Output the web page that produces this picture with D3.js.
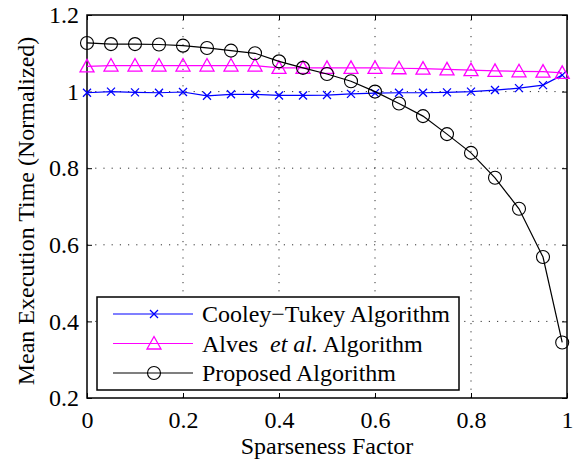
<!DOCTYPE html>
<html>
<head>
<meta charset="utf-8">
<script src="https://cdn.jsdelivr.net/npm/d3@7"></script>
<style>
  html, body { margin: 0; padding: 0; background: #fff; }
  svg { display: block; }
</style>
</head>
<body>
<svg id="chart" width="577" height="462" font-family="'Liberation Serif', 'Times New Roman', serif"></svg>
<script>
// ── Data ─────────────────────────────────────────────
const sparseness = [0, 0.05, 0.1, 0.15, 0.2, 0.25, 0.3, 0.35, 0.4, 0.45, 0.5,
                    0.55, 0.6, 0.65, 0.7, 0.75, 0.8, 0.85, 0.9, 0.95, 0.99];
const cooleyTukey = [0.997, 1.0, 0.998, 0.997, 0.999, 0.989, 0.993, 0.993, 0.99, 0.99, 0.991,
                     0.994, 0.996, 0.997, 0.997, 0.998, 1.0, 1.004, 1.009, 1.017, 1.043];
const alves = [1.066, 1.068, 1.068, 1.068, 1.068, 1.068, 1.068, 1.068, 1.062, 1.062, 1.062,
               1.062, 1.062, 1.061, 1.06, 1.058, 1.056, 1.054, 1.053, 1.052, 1.049];
const proposed = [1.127, 1.124, 1.124, 1.123, 1.12, 1.114, 1.107, 1.1, 1.079, 1.062, 1.046,
                  1.027, 1.0, 0.969, 0.936, 0.889, 0.84, 0.775, 0.694, 0.568, 0.345];
const xTicks = [0, 0.2, 0.4, 0.6, 0.8, 1];
const yTicks = [0.2, 0.4, 0.6, 0.8, 1, 1.2];

const series = [
  { name: 'Cooley\u2212Tukey Algorithm', values: cooleyTukey, color: '#0000ff', marker: 'cross' },
  { name: 'Alves et al. Algorithm',      values: alves,       color: '#ff00ff', marker: 'triangle' },
  { name: 'Proposed Algorithm',          values: proposed,    color: '#000000', marker: 'circle' },
];

// ── Layout ───────────────────────────────────────────
const m = { left: 87, right: 10, top: 15, bottom: 64 };
const W = 577, H = 462;
const FS = 24;
const svg = d3.select('#chart');

const x = d3.scaleLinear().domain([0, 1]).range([m.left, W - m.right]);
const y = d3.scaleLinear().domain([0.2, 1.2]).range([H - m.bottom, m.top]);

// Grid (dotted)
const grid = svg.append('g').attr('class', 'grid')
  .attr('stroke', '#333').attr('stroke-width', 1).attr('stroke-dasharray', '1.2,7');
grid.selectAll('line.gx').data(xTicks.slice(1, -1)).join('line')
  .attr('x1', d => x(d)).attr('x2', d => x(d))
  .attr('y1', y.range()[0]).attr('y2', y.range()[1]);
grid.selectAll('line.gy').data(yTicks.slice(1, -1)).join('line')
  .attr('y1', d => y(d)).attr('y2', d => y(d))
  .attr('x1', x.range()[0]).attr('x2', x.range()[1]);

// Axes (ticks pointing inward, on all four sides)
const fmt = d => d3.format('')(d);
const styleAxis = g => {
  g.attr('font-family', null).attr('font-size', null);
  g.select('.domain').remove();
  g.selectAll('.tick line').attr('stroke', '#000').attr('stroke-width', 1);
  g.selectAll('.tick text').attr('font-size', FS).attr('fill', '#000');
};
svg.append('g').attr('transform', `translate(0,${y(0.2)})`)
  .call(d3.axisBottom(x).tickValues(xTicks).tickFormat(fmt).tickSizeInner(-5).tickSizeOuter(0).tickPadding(13))
  .call(styleAxis);
svg.append('g').attr('transform', `translate(0,${y(1.2)})`)
  .call(d3.axisTop(x).tickValues(xTicks).tickFormat('').tickSizeInner(-5).tickSizeOuter(0))
  .call(styleAxis);
svg.append('g').attr('transform', `translate(${x(0)},0)`)
  .call(d3.axisLeft(y).tickValues(yTicks).tickFormat(fmt).tickSizeInner(-5).tickSizeOuter(0).tickPadding(8))
  .call(styleAxis);
svg.append('g').attr('transform', `translate(${x(1)},0)`)
  .call(d3.axisRight(y).tickValues(yTicks).tickFormat('').tickSizeInner(-5).tickSizeOuter(0))
  .call(styleAxis);

// Frame
svg.append('rect')
  .attr('x', x(0)).attr('y', y(1.2))
  .attr('width', x(1) - x(0)).attr('height', y(0.2) - y(1.2))
  .attr('fill', 'none').attr('stroke', '#000').attr('stroke-width', 1.5);

// Markers
function drawMarker(g, type, color) {
  if (type === 'circle') {
    g.append('circle').attr('r', 6.5).attr('fill', 'none').attr('stroke', color).attr('stroke-width', 1.1);
  } else if (type === 'triangle') {
    g.append('path').attr('d', 'M0,-7L7,5.5L-7,5.5Z')
      .attr('fill', 'none').attr('stroke', color).attr('stroke-width', 1.3);
  } else {
    g.append('path').attr('d', 'M-4,-4L4,4M-4,4L4,-4')
      .attr('stroke', color).attr('stroke-width', 1.3);
  }
}

// Series
const line = d3.line().x((d, i) => x(sparseness[i])).y(d => y(d));
const plot = svg.append('g');
series.forEach(s => {
  plot.append('path').datum(s.values)
    .attr('d', line).attr('fill', 'none')
    .attr('stroke', s.color).attr('stroke-width', 1.2);
  plot.selectAll(null).data(s.values).join('g')
    .attr('transform', (d, i) => `translate(${x(sparseness[i])},${y(d)})`)
    .each(function () { drawMarker(d3.select(this), s.marker, s.color); });
});

// Legend
const lg = svg.append('g').attr('transform', 'translate(97,297)');
lg.append('rect').attr('width', 362).attr('height', 93)
  .attr('fill', '#fff').attr('stroke', '#000').attr('stroke-width', 1.5);
series.forEach((s, i) => {
  const row = lg.append('g').attr('transform', `translate(0,${17 + i * 29.5})`);
  row.append('line').attr('x1', 16).attr('x2', 96)
    .attr('stroke', s.color).attr('stroke-width', 1.2);
  drawMarker(row.append('g').attr('transform', 'translate(57,0)'), s.marker, s.color);
  const t = row.append('text').attr('x', 105).attr('dy', '0.35em')
    .attr('font-size', FS).attr('fill', '#000');
  if (s.marker === 'triangle') {
    t.append('tspan').text('Alves ');
    t.append('tspan').attr('font-style', 'italic').attr('dx', 6).text('et al.');
    t.append('tspan').text(' Algorithm');
  } else {
    t.text(s.name);
  }
});

// Axis labels
svg.append('text').attr('x', x(0.5)).attr('y', 454)
  .attr('text-anchor', 'middle').attr('font-size', FS).text('Sparseness Factor');
svg.append('text')
  .attr('transform', `translate(34,211) rotate(-90)`)
  .attr('text-anchor', 'middle').attr('font-size', FS).text('Mean Execution Time (Normalized)');
</script>
</body>
</html>
